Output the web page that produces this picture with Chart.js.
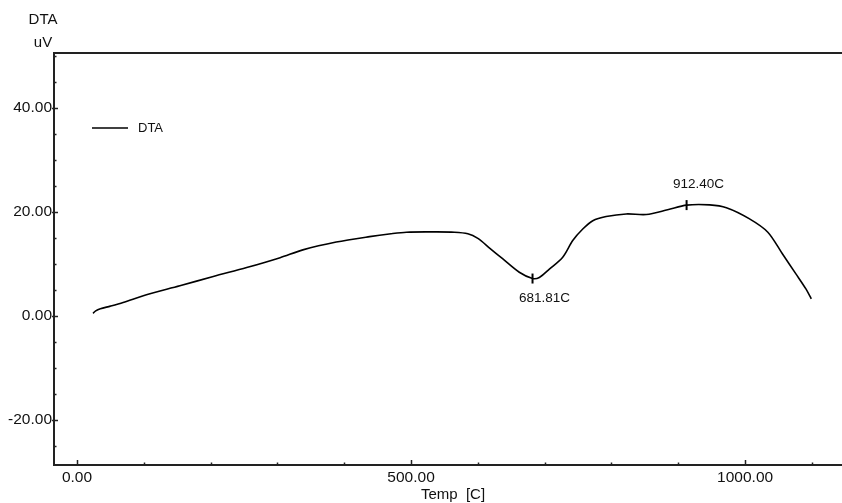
<!DOCTYPE html>
<html>
<head>
<meta charset="utf-8">
<script src="https://cdn.jsdelivr.net/npm/chart.js@4.4.0/dist/chart.umd.min.js"></script>
<style>
  body { margin: 0; background: #fff; }
  #wrap { width: 842px; height: 503px; }
</style>
</head>
<body>
<div id="wrap"><canvas id="dta-chart" width="842" height="503"></canvas></div>
<script>
// DTA curve (Temp in C, signal in uV)
var temps = [24, 28, 35, 50, 69, 104, 154, 204, 254, 304, 338, 388, 438, 470, 493, 530, 565, 585, 600, 618, 637, 662, 681.81, 692, 707, 727, 742, 757, 772, 792, 822, 852, 884, 912.40, 947, 972, 1006, 1034, 1056, 1076, 1091, 1099];
var dtaValues = [0.5, 1.0, 1.4, 1.9, 2.6, 4.1, 5.8, 7.6, 9.3, 11.2, 12.7, 14.2, 15.25, 15.8, 16.1, 16.15, 16.1, 15.8, 14.9, 13.0, 11.0, 8.4, 7.2, 7.4, 9.0, 11.3, 14.5, 16.7, 18.3, 19.1, 19.6, 19.5, 20.4, 21.3, 21.35, 20.8, 18.7, 16.1, 11.9, 8.1, 5.2, 3.3];

var xTicks = [0, 500, 1000];
var yTicks = [-20, 0, 20, 40];
var peakTemps = [681.81, 912.40];
var peakLabels = ["681.81C", "912.40C"];

var points = [];
for (var i = 0; i < temps.length; i++) {
  points.push({ x: temps[i], y: dtaValues[i] });
}

function valueAt(t) {
  for (var i = 0; i < temps.length; i++) {
    if (temps[i] == t) return dtaValues[i];
  }
  return 0;
}

var textColor = "#111";
var axisColor = "#222";

// frame line, tick marks, titles, legend and peak marks
var decorations = {
  id: "decorations",
  afterDraw: function (chart) {
    var ctx = chart.ctx;
    var a = chart.chartArea;
    var x = chart.scales.x;
    var y = chart.scales.y;
    ctx.save();
    ctx.strokeStyle = axisColor;
    ctx.lineWidth = 2;
    ctx.beginPath();
    ctx.moveTo(a.left - 1, a.top);
    ctx.lineTo(a.right, a.top);
    ctx.stroke();

    ctx.lineWidth = 1.5;
    // y ticks, minor every 5
    for (var v = -25; v <= 50; v += 5) {
      var py = Math.round(y.getPixelForValue(v)) + 0.5;
      var major = v % 20 == 0;
      ctx.beginPath();
      ctx.moveTo(a.left - (major ? 2 : 0), py);
      ctx.lineTo(a.left + (major ? 4 : 2.5), py);
      ctx.stroke();
    }
    // x ticks, minor every 100
    for (var t = 0; t <= 1100; t += 100) {
      var px = Math.round(x.getPixelForValue(t)) + 0.5;
      var xmajor = t % 500 == 0;
      ctx.beginPath();
      ctx.moveTo(px, a.bottom);
      ctx.lineTo(px, a.bottom - (xmajor ? 5 : 2.5));
      ctx.stroke();
    }

    ctx.fillStyle = textColor;
    ctx.font = "15px 'Liberation Sans', Arial, sans-serif";
    ctx.textAlign = "center";
    ctx.textBaseline = "middle";
    ctx.fillText("DTA", 43, 20);
    ctx.fillText("uV", 43, 43);
    ctx.fillText("Temp  [C]", 453, 495);

    // legend
    ctx.lineWidth = 1.5;
    ctx.strokeStyle = "#000";
    ctx.beginPath();
    ctx.moveTo(a.left + 38, a.top + 75);
    ctx.lineTo(a.left + 74, a.top + 75);
    ctx.stroke();
    ctx.font = "13px 'Liberation Sans', Arial, sans-serif";
    ctx.textAlign = "left";
    ctx.fillText("DTA", a.left + 84, a.top + 75);

    // peak marks
    ctx.font = "13.5px 'Liberation Sans', Arial, sans-serif";
    ctx.textAlign = "center";
    for (var k = 0; k < peakTemps.length; k++) {
      var mx = x.getPixelForValue(peakTemps[k]);
      var my = y.getPixelForValue(valueAt(peakTemps[k]));
      ctx.lineWidth = 2;
      ctx.beginPath();
      ctx.moveTo(mx, my - 5);
      ctx.lineTo(mx, my + 5);
      ctx.stroke();
      var below = k == 0;
      ctx.fillText(peakLabels[k], mx + 12, below ? my + 20 : my - 21);
    }
    ctx.restore();
  }
};

var ctx = document.getElementById("dta-chart").getContext("2d");
var dtaChart = new Chart(ctx, {
  type: "line",
  data: {
    datasets: [
      {
        label: "DTA",
        data: points,
        borderColor: "#000",
        borderWidth: 1.6,
        pointRadius: 0,
        fill: false,
        tension: 0.3
      }
    ]
  },
  options: {
    responsive: false,
    animation: false,
    layout: { padding: { top: 53, left: 0, right: 0, bottom: 0 } },
    plugins: {
      legend: { display: false },
      tooltip: { enabled: false }
    },
    scales: {
      x: {
        type: "linear",
        min: -34.4,
        max: 1145,
        grid: { display: false, drawTicks: false },
        border: { display: true, color: axisColor, width: 2 },
        ticks: {
          color: textColor,
          padding: 3,
          maxRotation: 0,
          font: { family: "'Liberation Sans', Arial, sans-serif", size: 15.5 },
          callback: function (v) { return v.toFixed(2); }
        },
        afterBuildTicks: function (scale) {
          scale.ticks = xTicks.map(function (v) { return { value: v }; });
        },
        afterFit: function (scale) { scale.height = 38; }
      },
      y: {
        min: -28.6,
        max: 50.5,
        grid: { display: false, drawTicks: false },
        border: { display: true, color: axisColor, width: 2 },
        ticks: {
          color: textColor,
          padding: 2,
          font: { family: "'Liberation Sans', Arial, sans-serif", size: 15.5 },
          callback: function (v) { return v.toFixed(2); }
        },
        afterBuildTicks: function (scale) {
          scale.ticks = yTicks.map(function (v) { return { value: v }; });
        },
        afterFit: function (scale) { scale.width = 54; }
      }
    }
  },
  plugins: [decorations]
});
</script>
</body>
</html>
